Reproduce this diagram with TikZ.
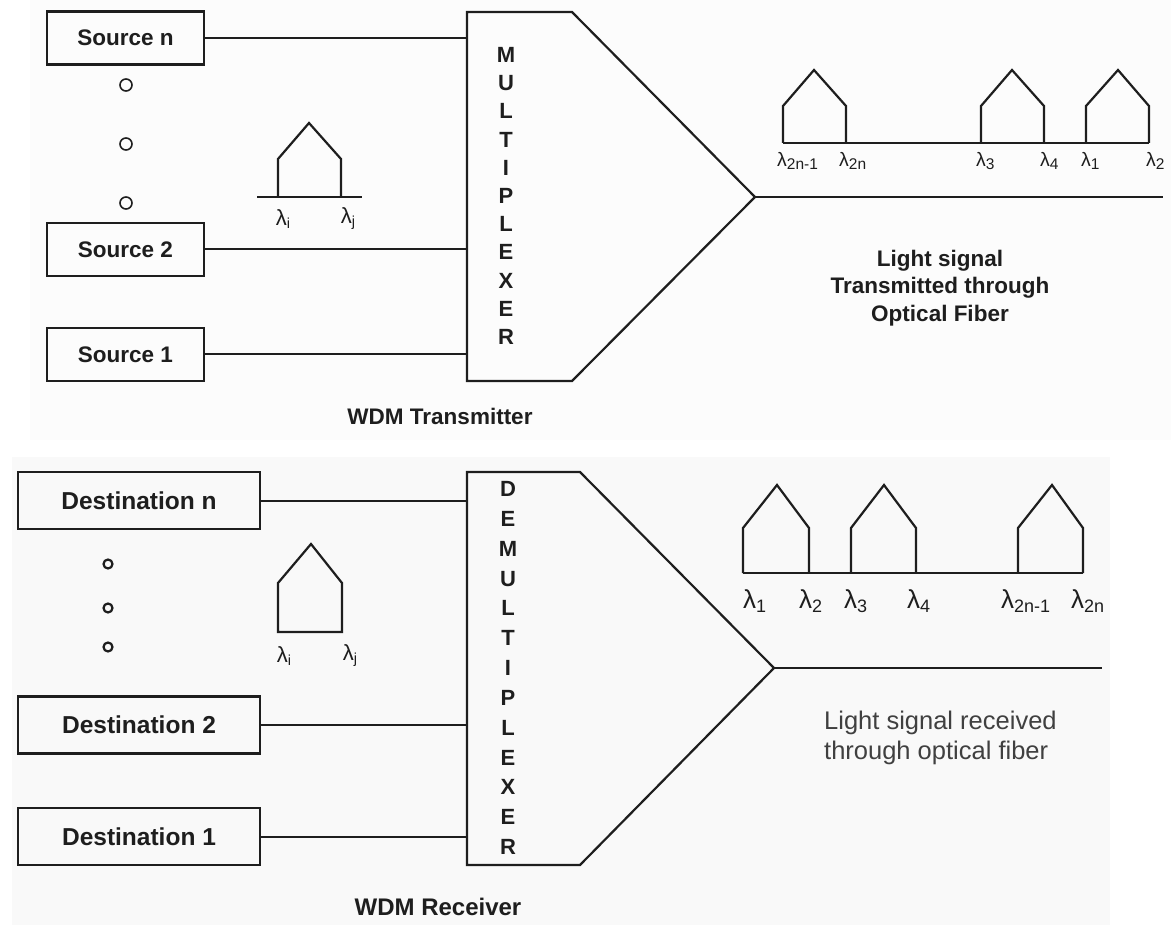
\documentclass[tikz,border=0pt]{standalone}
\usepackage{fontspec}
\setmainfont{Liberation Sans}
\definecolor{ink}{HTML}{1E1E1E}
\definecolor{bgtop}{HTML}{FCFCFC}
\definecolor{bgbot}{HTML}{F9F9F9}
\newcommand\lamT[1]{{\fontsize{19.5}{19.5}\selectfont λ\raisebox{-3pt}{\fontsize{15.5}{15.5}\selectfont #1}}}
\newcommand\lamB[1]{{\fontsize{26}{26}\selectfont λ\raisebox{-4pt}{\fontsize{18}{18}\selectfont #1}}}
\newcommand\lamS[1]{{\fontsize{22}{22}\selectfont λ\raisebox{-3pt}{\fontsize{14.5}{14.5}\selectfont #1}}}
\begin{document}
\begin{tikzpicture}[x=1pt,y=-1pt,
  box/.style={draw=ink, line width=2.4pt, minimum width=157pt, minimum height=53pt, inner sep=0pt,
    font=\fontsize{22.5}{22.5}\selectfont\bfseries, text=ink},
  dbox/.style={box, minimum width=242pt, minimum height=57pt, font=\fontsize{24.5}{24.5}\selectfont\bfseries},
  wire/.style={draw=ink, line width=2pt},
  spec/.style={draw=ink, line width=2.2pt, line join=miter},
  dot/.style={circle, draw=ink, line width=1.6pt, minimum size=12pt, inner sep=0pt},
  lab/.style={inner sep=0pt, text=ink},
  stack/.style={inner sep=0pt, align=center, text=ink, font=\fontsize{22}{28.2}\selectfont\bfseries}]
\useasboundingbox (0,0) rectangle (1171,933);
\fill[white] (0,0) rectangle (1171,933);
\fill[bgtop] (30,0) rectangle (1171,440);
\fill[bgbot] (12,457) rectangle (1110,925);

% ---------------- Transmitter ----------------
\node[box] (srcn) at (125.5,38) {Source n};
\node[box] (src2) at (125.5,249.5) {Source 2};
\node[box] (src1) at (125.5,354.5) {Source 1};
\node[dot] (d1) at (126,85) {};
\node[dot] (d2) at (126,144) {};
\node[dot] (d3) at (126,203) {};

\coordinate (muxTL) at (467,12);
\coordinate (muxTR) at (572,12);
\coordinate (muxtip) at (755,197);
\coordinate (muxBR) at (572,381);
\coordinate (muxBL) at (467,381);
\draw[wire, line width=2.2pt] (muxTL) -- (muxTR) -- (muxtip) -- (muxBR) -- (muxBL) -- cycle;
\node[stack] (muxtext) at (506,196) {M\\U\\L\\T\\I\\P\\L\\E\\X\\E\\R};

\draw[wire] (srcn.east) -- (srcn.east -| muxTL);
\draw[wire] (src2.east) -- (src2.east -| muxTL);
\draw[wire] (src1.east) -- (src1.east -| muxTL);

\coordinate (fibT) at (1163,197);
\draw[wire] (muxtip) -- (fibT);

% small spectrum (top)
\draw[spec] (257,197) -- (362,197);
\draw[spec] (278,197) -- (278,159) -- (309,123) -- (341,159) -- (341,197);
\node[lab] (li1) at (283,219) {\lamS{i}};
\node[lab] (lj1) at (348,219) {\lamS{j}};

% spectrum on fiber (top)
\draw[spec] (783,143) -- (1149,143);
\draw[spec] (783,143) -- (783,106) -- (814,70) -- (846,106) -- (846,143);
\draw[spec] (981,143) -- (981,106) -- (1012,70) -- (1044,106) -- (1044,143);
\draw[spec] (1086,143) -- (1086,106) -- (1118,70) -- (1149,106) -- (1149,143);
\node[lab, anchor=west] (t1) at (777,161) {\lamT{2n-1}};
\node[lab, anchor=west] (t2) at (839,161) {\lamT{2n}};
\node[lab, anchor=west] (t3) at (976,161) {\lamT{3}};
\node[lab, anchor=west] (t4) at (1040,161) {\lamT{4}};
\node[lab, anchor=west] (t5) at (1081,161) {\lamT{1}};
\node[lab, anchor=west] (t6) at (1146,161) {\lamT{2}};

\node[stack, font=\fontsize{22.5}{27.5}\selectfont\bfseries] (txtT) at (940,288) {Light signal\\Transmitted through\\Optical Fiber};
\node[lab, font=\fontsize{22.5}{22.5}\selectfont\bfseries] (capT) at (440,416) {WDM Transmitter};

% ---------------- Receiver ----------------
\node[dbox] (dstn) at (139,500.5) {Destination n};
\node[dbox] (dst2) at (139,725) {Destination 2};
\node[dbox] (dst1) at (139,836.5) {Destination 1};
\node[dot, minimum size=9pt, line width=2.2pt] (e1) at (108,564) {};
\node[dot, minimum size=9pt, line width=2.2pt] (e2) at (108,608) {};
\node[dot, minimum size=9pt, line width=2.2pt] (e3) at (108,647) {};

\coordinate (dmxTL) at (467,472);
\coordinate (dmxTR) at (580,472);
\coordinate (dmxtip) at (774,668);
\coordinate (dmxBR) at (580,865);
\coordinate (dmxBL) at (467,865);
\draw[wire, line width=2.2pt] (dmxTL) -- (dmxTR) -- (dmxtip) -- (dmxBR) -- (dmxBL) -- cycle;
\node[stack, font=\fontsize{22}{29.83}\selectfont\bfseries] (dmxtext) at (508,668) {D\\E\\M\\U\\L\\T\\I\\P\\L\\E\\X\\E\\R};

\draw[wire] (dstn.east) -- (dstn.east -| dmxTL);
\draw[wire] (dst2.east) -- (dst2.east -| dmxTL);
\draw[wire] (dst1.east) -- (dst1.east -| dmxTL);

\coordinate (fibB) at (1102,668);
\draw[wire] (dmxtip) -- (fibB);

% small spectrum (bottom)
\draw[spec] (278,632) -- (278,583) -- (311,544) -- (342,583) -- (342,632) -- cycle;
\node[lab] (li2) at (284,656) {\lamS{i}};
\node[lab] (lj2) at (350,656) {\lamS{j}};

% spectrum on fiber (bottom)
\draw[spec] (743,573) -- (1083,573);
\draw[spec] (743,573) -- (743,528) -- (777,485) -- (809,528) -- (809,573);
\draw[spec] (851,573) -- (851,528) -- (884,485) -- (916,528) -- (916,573);
\draw[spec] (1018,573) -- (1018,528) -- (1052,485) -- (1083,528) -- (1083,573);
\node[lab, anchor=west] (b1) at (743,601) {\lamB{1}};
\node[lab, anchor=west] (b2) at (799,601) {\lamB{2}};
\node[lab, anchor=west] (b3) at (844,601) {\lamB{3}};
\node[lab, anchor=west] (b4) at (907,601) {\lamB{4}};
\node[lab, anchor=west] (b5) at (1001,601) {\lamB{2n-1}};
\node[lab, anchor=west] (b6) at (1071,601) {\lamB{2n}};

\node[lab, anchor=west, align=left, text=ink!85, font=\fontsize{25.5}{30}\selectfont] (txtB) at (824,738) {Light signal received\\through optical fiber};
\node[lab, font=\fontsize{24}{24}\selectfont\bfseries] (capB) at (438,907) {WDM Receiver};
\end{tikzpicture}
\end{document}
